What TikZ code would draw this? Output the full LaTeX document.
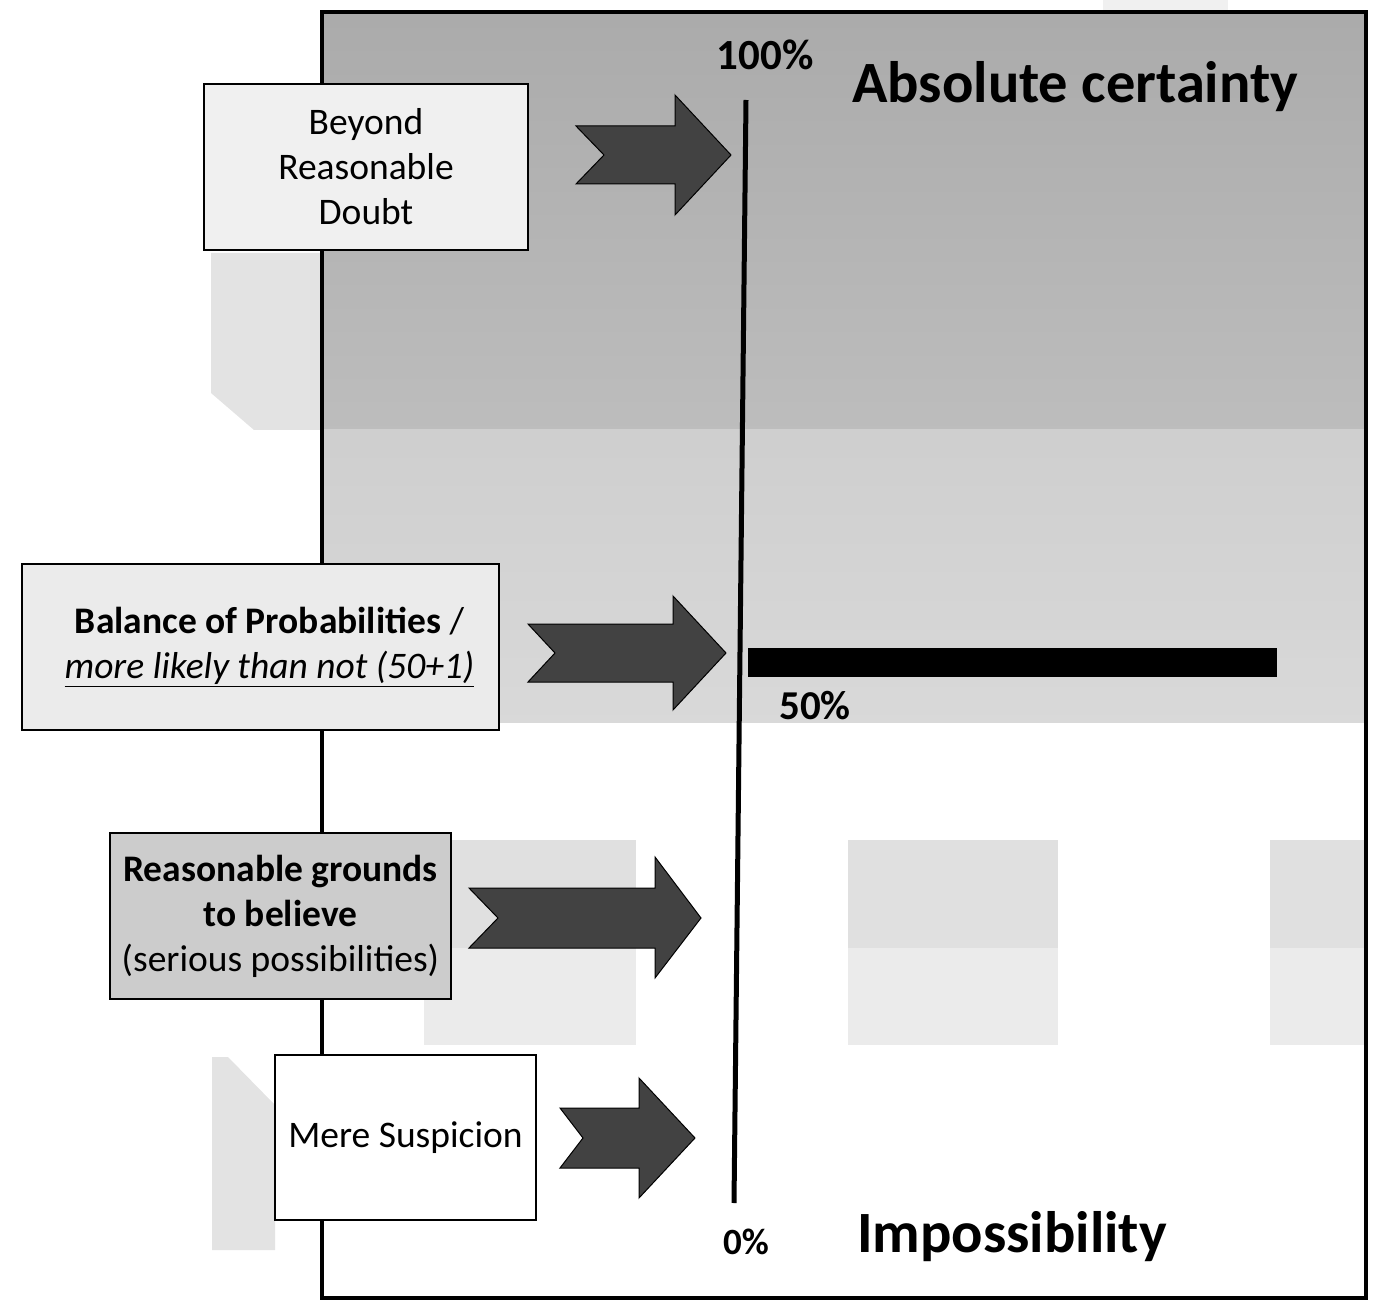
\documentclass[tikz,border=0pt]{standalone}
\usepackage{fontspec}
\setmainfont{Carlito}
\begin{document}
\begin{tikzpicture}[x=1pt,y=-1pt,
  levelbox/.style={draw=black, line width=2pt, rectangle, align=center,
    inner sep=0pt, font=\fontsize{37.5}{45}\selectfont},
  blockarrow/.style={fill=black!74, draw=black, line width=1pt, line join=miter},
  haze/.style={fill=black!11},
  bigword/.style={inner sep=0pt, font=\bfseries\fontsize{58.5}{58}\selectfont},
  pct/.style={inner sep=0pt, font=\bfseries\fontsize{#1}{#1}\selectfont},
]
\useasboundingbox (0,0) rectangle (1374,1305);

% faint patches outside the frame
\fill[haze] (211,253) -- (322,253) -- (322,430) -- (254,430) -- (211,393) -- cycle;
\fill[haze] (212,1057) -- (228,1057) -- (275,1105) -- (275,1250) -- (212,1250) -- cycle;
\fill[black!6] (1103,0) rectangle (1228,10);

% graded background of the probability frame
\shade[top color=black!33, bottom color=black!26] (322,12) rectangle (1366,430);
\shade[top color=black!19, bottom color=black!15] (322,430) rectangle (1366,722);
\foreach \xa/\xb in {424/636, 848/1058, 1270/1366} {
  \fill[black!12] (\xa,840) rectangle (\xb,948);
  \fill[black!8] (\xa,948) rectangle (\xb,1045);
}
\draw[line width=3.5pt] (322,12) rectangle (1366,1298);

% probability scale
\coordinate (top) at (746,100);
\coordinate (bottom) at (734,1203);
\draw[line width=5pt] (top) -- (bottom);
\fill (748,648) rectangle (1277,677);

\node[pct=43, anchor=base] (p100) at (765,70) {100\%};
\node[pct=41, anchor=base] (p50) at (815,719) {50\%};
\node[pct=37, anchor=base] (p0) at (746,1254) {0\%};
\node[bigword, anchor=base west] (certain) at (852,103) {Absolute certainty};
\node[bigword, anchor=base west] (impossible) at (857,1252) {Impossibility};

% standards of proof
\node[levelbox, fill=black!6, minimum width=324pt, minimum height=166pt] (brd) at (366,167)
  {Beyond\\Reasonable\\Doubt};
\node[levelbox, fill=black!8, minimum width=477pt, minimum height=166pt] (bop) at (260.5,647)
  {\hspace*{18pt}\textbf{Balance of Probabilities} /\\\hspace*{18pt}\underline{\textit{more likely than not (50+1)}}};
\node[levelbox, fill=black!20, minimum width=341pt, minimum height=166pt] (rgb) at (280.5,916)
  {\textbf{Reasonable grounds}\\\textbf{to believe}\\(serious possibilities)};
\node[levelbox, fill=white, minimum width=261pt, minimum height=165pt] (ms) at (405.5,1137.5)
  {Mere Suspicion};

% notched block arrows pointing at the scale
\draw[blockarrow] (576,126) -- (675,126) -- (675,95) -- (731,155) -- (675,215)
  -- (675,184) -- (576,184) -- (604,155) -- cycle;
\draw[blockarrow] (528,624) -- (673,624) -- (673,596) -- (726,653) -- (673,710)
  -- (673,682) -- (528,682) -- (555,653) -- cycle;
\draw[blockarrow] (469,888) -- (655,888) -- (655,857) -- (701,918) -- (655,978)
  -- (655,948) -- (469,948) -- (498,918) -- cycle;
\draw[blockarrow] (560,1108) -- (639,1108) -- (639,1078) -- (695,1138) -- (639,1198)
  -- (639,1168) -- (560,1168) -- (583,1138) -- cycle;
\end{tikzpicture}
\end{document}
